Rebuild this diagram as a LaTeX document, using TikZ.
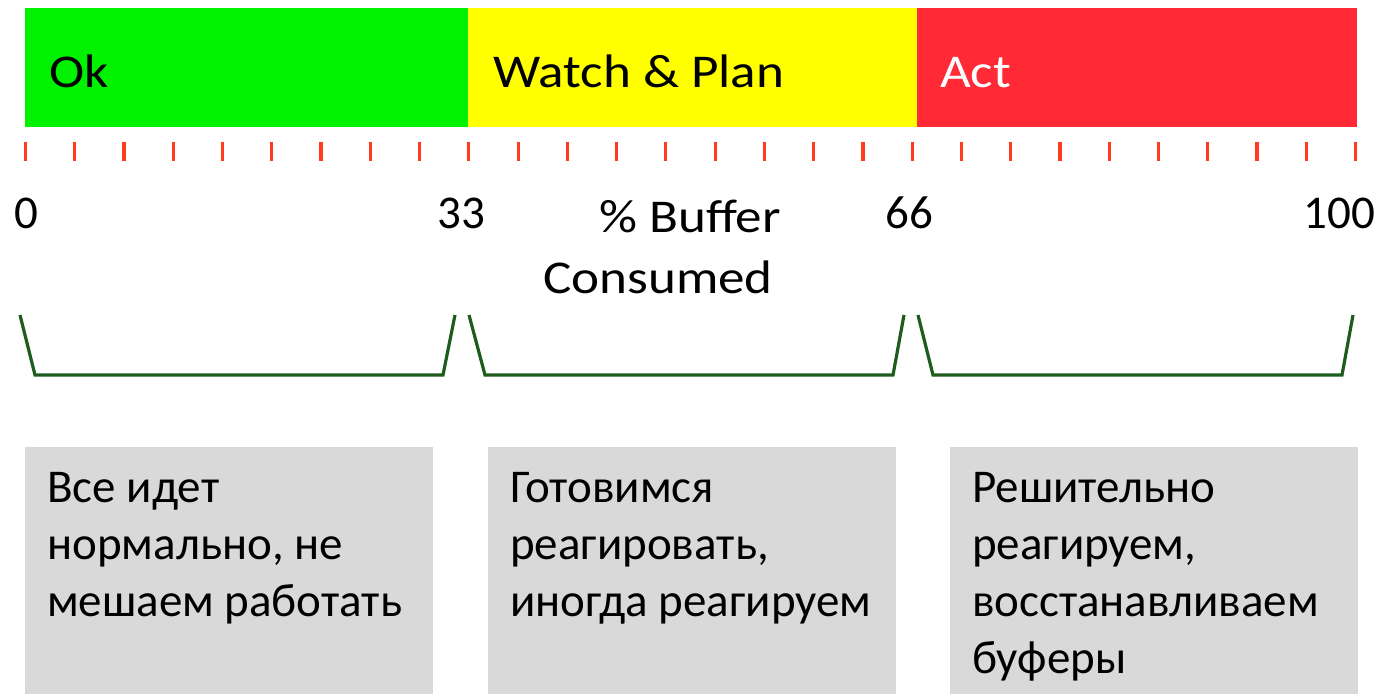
\documentclass[tikz,border=0pt]{standalone}
\usepackage{fontspec}
\setmainfont{Carlito}
\newfontfamily\widefont[FakeStretch=1.13]{Carlito}
\usepackage{tikz}
\usetikzlibrary{positioning}

\definecolor{okgreen}{HTML}{00F200}
\definecolor{watchyellow}{HTML}{FFFF00}
\definecolor{actred}{HTML}{FF2A36}
\definecolor{tickred}{HTML}{FF3A1E}
\definecolor{bracegreen}{HTML}{1E5C1E}
\definecolor{notegray}{HTML}{D9D9D9}

\begin{document}
\begin{tikzpicture}[
            x = 1pt,
            y = -1pt,
            font = \fontsize{47}{57}\selectfont,
            line join = miter
        ]

        \tikzstyle{band}=[
            anchor = north west,
            inner sep = 0pt,
            minimum height = 119pt
        ]
        \tikzstyle{notebox}=[
            anchor = north west,
            fill = notegray,
            inner sep = 0pt,
            minimum width = 408pt,
            minimum height = 260pt
        ]
        \tikzset{
            barlabel/.style={anchor=base west, inner sep=0pt, font=\fontsize{47}{57}\widefont},
            scalelabel/.style={anchor=base, inner sep=0pt},
            notetext/.style={anchor=base west, inner sep=0pt, text width=400pt, align=flush left},
            tickmark/.style={tickred, line width=3.2pt},
            zone/.style={bracegreen, line width=3.2pt}
        }

        \useasboundingbox (0,0) rectangle (1383,693);

        % coloured bar
        \node[band, fill=okgreen, minimum width=443pt] (okband) at (25,8) {};
        \node[band, fill=watchyellow, minimum width=449pt] (watchband) at (468,8) {};
        \node[band, fill=actred, minimum width=440pt] (actband) at (917,8) {};

        \node[barlabel] (ok) at (49,88) {Ok};
        \node[barlabel] (watch) at (493,88) {Watch \& Plan};
        \node[barlabel, white] (act) at (940,88) {Act};

        % ticks
        \foreach \i in {0,...,27}
            \draw[tickmark] ({25.5+\i*49.26},142) -- ++(0,19);

        % scale
        \node[scalelabel] (p0) at (26,228) {0};
        \node[scalelabel] (p33) at (461,228) {33};
        \node[scalelabel] (p66) at (909,228) {66};
        \node[scalelabel, anchor=base east] (p100) at (1375,228) {100};
        \node[scalelabel, font=\fontsize{47}{57}\widefont] (pct) at (690,232) {\% Buffer};
        \node[scalelabel, font=\fontsize{47}{57}\widefont] (cons) at (658,293) {Consumed};

        % zones
        \draw[zone] (20,315) -- (35,375) -- (443,375) -- (455,315);
        \draw[zone] (469,315) -- (485,375) -- (893,375) -- (904,315);
        \draw[zone] (918,315) -- (933,375) -- (1342,375) -- (1353,315);

        % notes
        \node[notebox] (okbox) at (25,447) {};
        \node[notebox] (watchbox) at (488,447) {};
        \node[notebox] (actbox) at (950,447) {};

        \node[notetext] (oktext) at (47,502) {Все идет\\нормально, не\\мешаем работать};
        \node[notetext] (watchtext) at (510,502) {Готовимся\\реагировать,\\иногда реагируем};
        \node[notetext] (acttext) at (972,502) {Решительно\\реагируем,\\восстанавливаем\\буферы};

    \end{tikzpicture}
\end{document}
